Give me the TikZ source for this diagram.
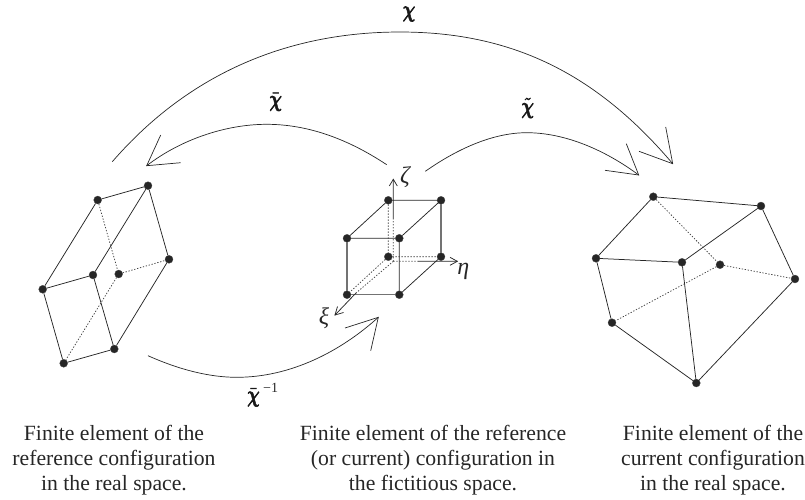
\documentclass[tikz,border=0pt]{standalone}
\usepackage{amsmath}
\usepackage{graphicx}
\usepackage{fontspec}
\setmainfont{Liberation Serif}
\newcommand{\heavy}[1]{\scalebox{0.84}[1.12]{\special{pdf:code q 2 Tr 0.55 w}#1\special{pdf:code Q}}}
\tikzset{
  vtx/.style={circle,fill=black!85,draw=black!70,line width=0.3pt,minimum size=8pt,inner sep=0pt},
  edgeln/.style={line width=0.75pt,draw=black!85},
  hid/.style={line width=0.75pt,draw=black!75,dash pattern=on 1.3pt off 1.7pt},
  gry/.style={line width=1.1pt,draw=black!55},
  curveln/.style={line width=0.7pt,draw=black!85},
  axisln/.style={line width=0.75pt,draw=black!85},
  captxt/.style={align=center,inner sep=0pt,font=\fontsize{21.7}{24.8}\selectfont,text=black!85},
  lab/.style={inner sep=0pt,font=\fontsize{20}{24}\selectfont,text=black!90},
  gk/.style={inner sep=0pt,font=\fontsize{24}{26}\selectfont\itshape,text=black!85}
}
\begin{document}
\begin{tikzpicture}[x=1pt,y=-1pt]
\useasboundingbox (0,0) rectangle (805,499);
% left element
\node[vtx] (la) at (97.7,200) {};
\node[vtx] (lb) at (148,185.7) {};
\node[vtx] (lc) at (169,259.3) {};
\node[vtx] (ld) at (118.7,274) {};
\node[vtx] (le) at (42.7,289.3) {};
\node[vtx] (lf) at (93,275) {};
\node[vtx] (lg) at (63.7,363.3) {};
\node[vtx] (lh) at (114.3,349) {};
\draw[edgeln] (la)--(lb) (lb)--(lc) (lc)--(lh) (lh)--(lg) (lg)--(le) (le)--(la) (le)--(lf) (lf)--(lb) (lf)--(lh);
\draw[hid] (la)--(ld) (ld)--(lc) (ld)--(lg);
% centre element
\node[vtx] (ca) at (388.3,200.3) {};
\node[vtx] (cb) at (441,200.3) {};
\node[vtx] (cc) at (347,238.3) {};
\node[vtx] (cd) at (399.3,238.3) {};
\node[vtx] (ce) at (388.3,256.7) {};
\node[vtx] (cf) at (441,256.7) {};
\node[vtx] (cg) at (347,294.7) {};
\node[vtx] (ch) at (399.3,294.7) {};
\coordinate (o) at (393.3,261.3);
\coordinate (zt) at (393.3,179.3);
\coordinate (et) at (457.3,261.3);
\coordinate (xt) at (335,315);
\coordinate (zm) at (393.3,219);
\coordinate (em) at (418,261.3);
\coordinate (xm) at (356,293);
\draw[edgeln] (ca)--(cb) (ca)--(cc) (cb)--(cd) (cc)--(cd) (cd)--(ch) (cf)--(ch);
\draw[gry] (cb)--(cf) (cc)--(cg) (cg)--(ch);
\draw[hid] (ca)--(ce) (ce)--(cf) (ce)--(cg);
\draw[hid] (o)--(zm) (o)--(em) (o)--(xm);
\draw[axisln] (zm)--(zt) (em)--(et) (xm)--(xt);
\draw[axisln] (389.3,186)--(zt)--(397.3,186);
\draw[axisln] (450,257.3)--(et)--(450,265.3);
\draw[axisln] (337.5,306.5)--(xt)--(343.5,312.5);
% right element
\node[vtx] (ra) at (653.3,196.7) {};
\node[vtx] (rb) at (761,206) {};
\node[vtx] (rc) at (795,279) {};
\node[vtx] (rd) at (720,264.7) {};
\node[vtx] (re) at (596,258.3) {};
\node[vtx] (rf) at (682,262.3) {};
\node[vtx] (rg) at (612,322.7) {};
\node[vtx] (rh) at (696.3,383) {};
\draw[edgeln] (ra)--(rb) (rb)--(rc) (rc)--(rh) (rh)--(rg) (rg)--(re) (re)--(ra) (re)--(rf) (rf)--(rb) (rf)--(rh);
\draw[hid] (ra)--(rd) (rd)--(rc) (rd)--(rg);
% arcs
\coordinate (c1s) at (112.3,161.7);
\coordinate (c1e) at (672.7,163.7);
\draw[curveln] (c1s) .. controls (190,72) and (290,32) .. (400,32) .. controls (510,32) and (595,72) .. (c1e);
\draw[curveln] (665.7,127)--(c1e)--(639,151.3);
\coordinate (c2s) at (386.7,164.7);
\coordinate (c2e) at (146.7,165.7);
\draw[curveln] (c2s) .. controls (345,137) and (305,124.3) .. (266.7,124.3) .. controls (225,124.3) and (180,140) .. (c2e);
\draw[curveln] (160.7,135)--(c2e)--(180.7,162.7);
\coordinate (c3s) at (425.3,171.3);
\coordinate (c3e) at (638.7,175);
\draw[curveln] (c3s) .. controls (460,147) and (495,132.7) .. (526.7,132.7) .. controls (565,132.7) and (605,150) .. (c3e);
\draw[curveln] (626.3,143.7)--(c3e)--(605,170.3);
\coordinate (c4s) at (148,355.7);
\coordinate (c4e) at (378.3,317.3);
\draw[curveln] (c4s) .. controls (180,370) and (210,377.3) .. (236.7,377.3) .. controls (290,377.3) and (340,352) .. (c4e);
\draw[curveln] (345,328)--(c4e)--(370.7,350.7);
% labels
\node[lab] (lchi) at (409,14) {\heavy{$\boldsymbol{\chi}$}};
\node[lab] (lbar) at (275.7,102) {\heavy{$\bar{\boldsymbol{\chi}}$}};
\node[lab] (ltil) at (527.7,108) {\heavy{$\tilde{\boldsymbol{\chi}}$}};
\node[lab,anchor=base west] (linv) at (247,402) {\heavy{$\bar{\boldsymbol{\chi}}$}};
\node[inner sep=0pt,font=\fontsize{14}{16}\selectfont,anchor=base west,text=black!85] (lexp) at (263,392) {−1};
\node[gk] (lz) at (405,177) {ζ};
\node[gk] (le2) at (463.3,271.7) {η};
\node[gk] (lx) at (324,318.3) {ξ};
% captions
\node[captxt,anchor=base] (t1) at (114,490) {Finite element of the\\reference configuration\\in the real space.};
\node[captxt,anchor=base] (t2) at (433,490) {Finite element of the reference\\(or current) configuration in\\the fictitious space.};
\node[captxt,anchor=base] (t3) at (713,490) {Finite element of the\\current configuration\\in the real space.};
\end{tikzpicture}
\end{document}
